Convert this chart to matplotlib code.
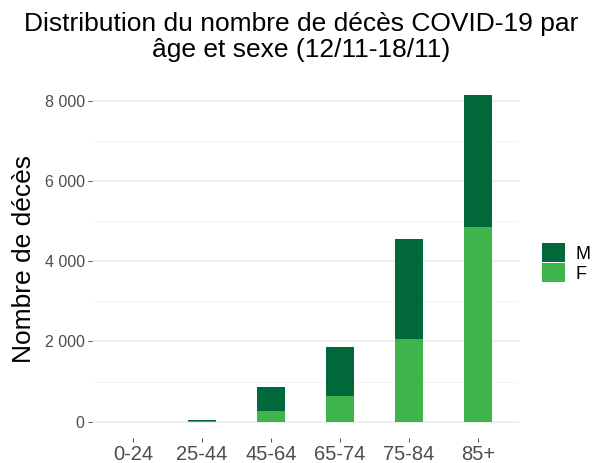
import matplotlib
matplotlib.use("Agg")
import matplotlib.pyplot as plt
import numpy as np
from matplotlib.ticker import FuncFormatter, MultipleLocator
from matplotlib.patches import Patch

plt.rcParams['font.family'] = ['Liberation Sans', 'DejaVu Sans']

age_groups = ['0-24', '25-44', '45-64', '65-74', '75-84', '85+']
deaths_f = [1, 12, 275, 650, 2055, 4860]
deaths_m = [2, 38, 582, 1205, 2500, 3275]

COLOR_M = '#00683A'
COLOR_F = '#3DB54A'

fig = plt.figure(figsize=(5.95, 4.63), dpi=100)
ax = fig.add_axes([0.154, 0.054, 0.719, 0.775])

x = np.arange(len(age_groups))
ax.bar(x, deaths_f, width=0.4, color=COLOR_F, zorder=2)
ax.bar(x, deaths_m, width=0.4, bottom=deaths_f, color=COLOR_M, zorder=2)

total_max = max(f + m for f, m in zip(deaths_f, deaths_m))
ax.set_xlim(-0.6, len(age_groups) - 0.4)
ax.set_ylim(-0.05 * total_max, 1.05 * total_max)

ax.yaxis.set_major_locator(MultipleLocator(2000))
ax.yaxis.set_minor_locator(MultipleLocator(1000))
ax.yaxis.set_major_formatter(FuncFormatter(lambda v, p: f'{int(v):,}'.replace(',', ' ')))
ax.grid(axis='y', which='major', color='#EBEBEB', linewidth=1.1, zorder=0)
ax.grid(axis='y', which='minor', color='#F2F2F2', linewidth=0.6, zorder=0)
ax.set_xticks(x)
ax.set_xticklabels(age_groups)

for s in ax.spines.values():
    s.set_visible(False)
ax.tick_params(axis='both', which='major', colors='#333333', labelcolor='#4D4D4D',
               length=3, width=0.6, pad=2)
ax.tick_params(axis='y', labelsize=11.5)
ax.tick_params(axis='x', labelsize=14.5)
ax.tick_params(axis='y', which='minor', length=0)

ax.set_ylabel('Nombre de décès', fontsize=19, color='black')
ax.yaxis.set_label_coords(-0.13, 0.5)
fig.text(0.506, 0.975, 'Distribution du nombre de décès COVID-19 par\nâge et sexe (12/11-18/11)',
         fontsize=19, ha='center', va='top', linespacing=1.15)

handles = [Patch(facecolor=COLOR_M, label='M'), Patch(facecolor=COLOR_F, label='F')]
fig.legend(handles=handles, loc='center left', bbox_to_anchor=(0.895, 0.432), frameon=False,
           fontsize=13, handlelength=1.28, handleheight=1.2, handletextpad=0.6, labelspacing=0.05,
           borderpad=0)

fig.savefig('out.png', dpi=100)
